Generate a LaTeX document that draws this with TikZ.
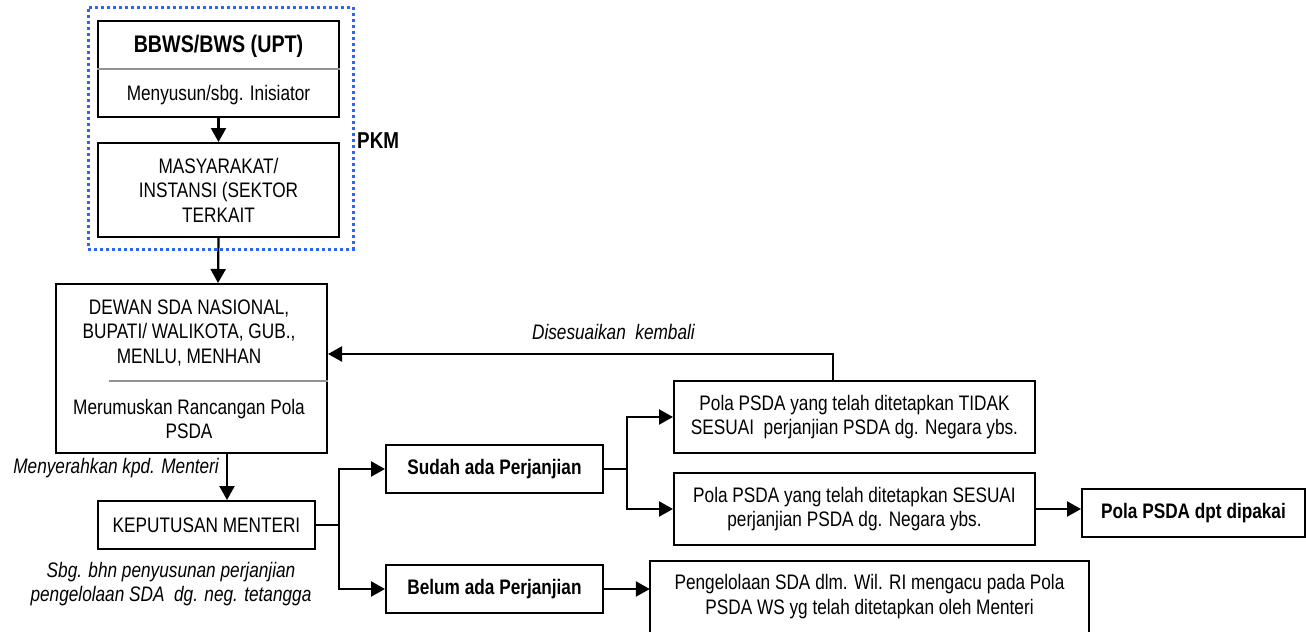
\documentclass[tikz,border=0pt]{standalone}
\usepackage{fontspec}
\setmainfont[FakeStretch=0.82]{Liberation Sans}
\usetikzlibrary{arrows.meta}
\definecolor{dotblue}{RGB}{45,100,245}
\newcommand\regf{\fontsize{21}{24.5}\selectfont}
\newcommand\titf{\fontsize{24}{28}\selectfont\bfseries}
\begin{document}
\begin{tikzpicture}[x=1pt,y=-1pt,
  box/.style={draw, line width=2pt, inner sep=0pt, align=center, font=\regf},
  txt/.style={inner sep=0pt, align=center, font=\regf},
  itl/.style={inner sep=0pt, align=center, font=\regf\itshape},
  arr/.style={line width=2.2pt, -{Triangle[length=14pt,width=15pt]}},
  ln/.style={line width=2.2pt},
  divider/.style={draw=gray!85, line width=1.5pt}]
\useasboundingbox (0,0) rectangle (1306,632);
% PKM group
\node[draw=dotblue, line width=3pt, dash pattern=on 3pt off 3pt, minimum width=265, minimum height=242, inner sep=0pt] (pkm) at (220.5,128) {};
\node[txt, font=\fontsize{23}{27}\selectfont\bfseries, anchor=west] (pkmlbl) at (357,141) {PKM};
% BBWS
\node[box, minimum width=241, minimum height=96] (bbws) at (218.5,69) {};
\node[txt, font=\titf] (bbwsT) at (218.5,46) {BBWS/BWS (UPT)};
\node[txt] (bbwsS) at (218.5,95) {Menyusun/sbg. Inisiator};
\draw[divider] (bbws.west) -- (bbws.east);
% MASYARAKAT
\node[box, minimum width=241, minimum height=94] (masy) at (218.5,190) {MASYARAKAT/\\INSTANSI (SEKTOR\\TERKAIT};
% DEWAN
\node[box, minimum width=271, minimum height=169] (dewan) at (191.5,368.5) {};
\node[txt] (dewanT) at (189,333) {DEWAN SDA NASIONAL,\\BUPATI/ WALIKOTA, GUB.,\\MENLU, MENHAN};
\node[txt] (dewanS) at (189,419) {Merumuskan Rancangan Pola\\PSDA};
\coordinate (dv) at (109,381);
\draw[divider] (dv) -- (dv -| dewan.east);
% KEPUTUSAN
\node[box, minimum width=217, minimum height=48] (kep) at (206.5,525) {KEPUTUSAN MENTERI};
% branches
\node[box, font=\regf\bfseries, minimum width=217, minimum height=48] (sudah) at (494.5,469) {Sudah ada Perjanjian};
\node[box, font=\regf\bfseries, minimum width=217, minimum height=48] (belum) at (494.5,589) {Belum ada Perjanjian};
\node[box, minimum width=361, minimum height=72] (tidak) at (854.5,417) {Pola PSDA yang telah ditetapkan TIDAK\\SESUAI\ \ perjanjian PSDA dg. Negara ybs.};
\node[box, minimum width=361, minimum height=72] (sesuai) at (854.5,509) {Pola PSDA yang telah ditetapkan SESUAI\\perjanjian PSDA dg. Negara ybs.};
\node[box, font=\regf\bfseries, minimum width=223, minimum height=48] (pola) at (1193.5,513) {Pola PSDA dpt dipakai};
\node[txt, minimum width=439, minimum height=71] (peng) at (869.5,596.5) {Pengelolaan SDA dlm. Wil. RI mengacu pada Pola\\PSDA WS yg telah ditetapkan oleh Menteri};
\draw[line width=2pt] (peng.south west) |- (peng.north east) -- (peng.south east);
% labels
\node[itl, anchor=east] (dislbl) at (695,332) {Disesuaikan\ \ kembali};
\node[itl, anchor=east] (menlbl) at (219,468) {Menyerahkan kpd. Menteri};
\node[itl] (sbglbl) at (171,584) {Sbg. bhn penyusunan perjanjian\\pengelolaan SDA\ \ dg. neg. tetangga};
% connectors
\coordinate (a218) at (218,0);
\coordinate (a227) at (227,0);
\draw[arr] (bbws.south) -- (masy.north);
\draw[arr] (masy.south) -- (a218 |- dewan.north);
\draw[arr] (a227 |- dewan.south) -- (a227 |- kep.north);
\coordinate (kj) at ([xshift=23pt]kep.east);
\draw[ln] (kep.east) -- (kj);
\draw[arr] (kj) |- (sudah.west);
\draw[arr] (kj) |- (belum.west);
\coordinate (sj) at ([xshift=23pt]sudah.east);
\draw[ln] (sudah.east) -- (sj);
\draw[arr] (sj) |- (tidak.west);
\draw[arr] (sj) |- (sesuai.west);
\draw[arr] (sesuai.east) -- (sesuai.east -| pola.west);
\draw[arr] (belum.east) -- (belum.east -| peng.west);
\coordinate (dis) at (833,354);
\draw[arr] (dis |- tidak.north) -- (dis) -- (dis -| dewan.east);
\end{tikzpicture}
\end{document}
